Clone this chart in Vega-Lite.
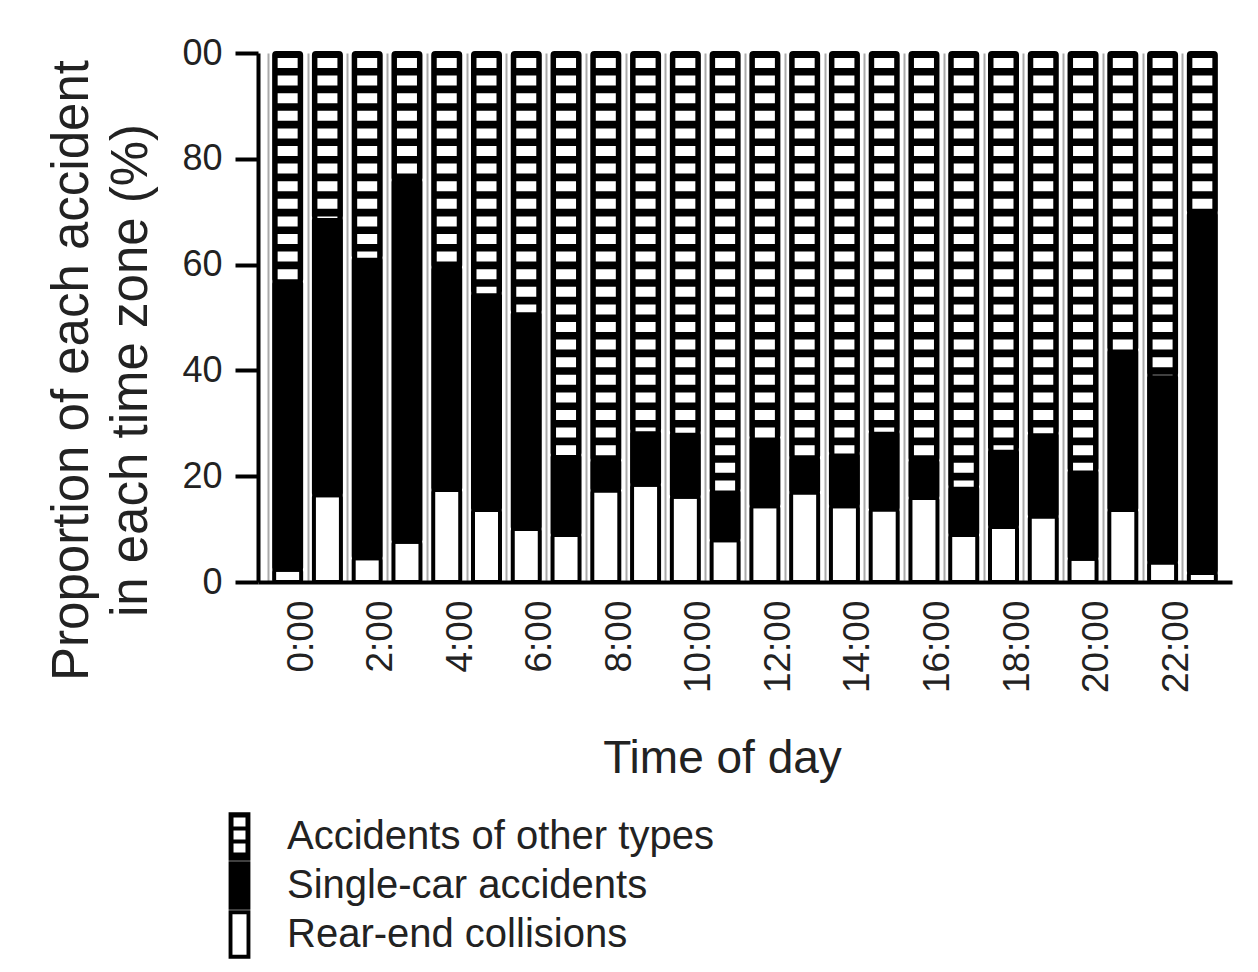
{
  "$schema": "https://vega.github.io/schema/vega-lite/v6.json",
  "width": 974,
  "height": 529,
  "autosize": {"type": "none"},
  "padding": {"left": 258, "top": 53, "right": 26, "bottom": 390},
  "background": "white",
  "config": {"view": {"stroke": null}, "font": "Liberation Sans"},
  "data": {"values": [
    {"h":"0:00","t":"Rear-end collisions","k":1,"v":2.3},{"h":"0:00","t":"Single-car accidents","k":2,"v":54.5},{"h":"0:00","t":"Accidents of other types","k":3,"v":43.2},
    {"h":"1:00","t":"Rear-end collisions","k":1,"v":16.4},{"h":"1:00","t":"Single-car accidents","k":2,"v":52.4},{"h":"1:00","t":"Accidents of other types","k":3,"v":31.2},
    {"h":"2:00","t":"Rear-end collisions","k":1,"v":4.5},{"h":"2:00","t":"Single-car accidents","k":2,"v":56.8},{"h":"2:00","t":"Accidents of other types","k":3,"v":38.7},
    {"h":"3:00","t":"Rear-end collisions","k":1,"v":7.6},{"h":"3:00","t":"Single-car accidents","k":2,"v":68.4},{"h":"3:00","t":"Accidents of other types","k":3,"v":24},
    {"h":"4:00","t":"Rear-end collisions","k":1,"v":17.4},{"h":"4:00","t":"Single-car accidents","k":2,"v":42.1},{"h":"4:00","t":"Accidents of other types","k":3,"v":40.5},
    {"h":"5:00","t":"Rear-end collisions","k":1,"v":13.6},{"h":"5:00","t":"Single-car accidents","k":2,"v":41},{"h":"5:00","t":"Accidents of other types","k":3,"v":45.4},
    {"h":"6:00","t":"Rear-end collisions","k":1,"v":10},{"h":"6:00","t":"Single-car accidents","k":2,"v":41},{"h":"6:00","t":"Accidents of other types","k":3,"v":49},
    {"h":"7:00","t":"Rear-end collisions","k":1,"v":8.9},{"h":"7:00","t":"Single-car accidents","k":2,"v":15.1},{"h":"7:00","t":"Accidents of other types","k":3,"v":76},
    {"h":"8:00","t":"Rear-end collisions","k":1,"v":17.3},{"h":"8:00","t":"Single-car accidents","k":2,"v":5.7},{"h":"8:00","t":"Accidents of other types","k":3,"v":77},
    {"h":"9:00","t":"Rear-end collisions","k":1,"v":18.4},{"h":"9:00","t":"Single-car accidents","k":2,"v":10.1},{"h":"9:00","t":"Accidents of other types","k":3,"v":71.5},
    {"h":"10:00","t":"Rear-end collisions","k":1,"v":16.1},{"h":"10:00","t":"Single-car accidents","k":2,"v":12.1},{"h":"10:00","t":"Accidents of other types","k":3,"v":71.8},
    {"h":"11:00","t":"Rear-end collisions","k":1,"v":7.9},{"h":"11:00","t":"Single-car accidents","k":2,"v":9.4},{"h":"11:00","t":"Accidents of other types","k":3,"v":82.7},
    {"h":"12:00","t":"Rear-end collisions","k":1,"v":14.3},{"h":"12:00","t":"Single-car accidents","k":2,"v":13},{"h":"12:00","t":"Accidents of other types","k":3,"v":72.7},
    {"h":"13:00","t":"Rear-end collisions","k":1,"v":16.9},{"h":"13:00","t":"Single-car accidents","k":2,"v":6.6},{"h":"13:00","t":"Accidents of other types","k":3,"v":76.5},
    {"h":"14:00","t":"Rear-end collisions","k":1,"v":14.3},{"h":"14:00","t":"Single-car accidents","k":2,"v":10},{"h":"14:00","t":"Accidents of other types","k":3,"v":75.7},
    {"h":"15:00","t":"Rear-end collisions","k":1,"v":13.7},{"h":"15:00","t":"Single-car accidents","k":2,"v":14.7},{"h":"15:00","t":"Accidents of other types","k":3,"v":71.6},
    {"h":"16:00","t":"Rear-end collisions","k":1,"v":15.9},{"h":"16:00","t":"Single-car accidents","k":2,"v":7.1},{"h":"16:00","t":"Accidents of other types","k":3,"v":77},
    {"h":"17:00","t":"Rear-end collisions","k":1,"v":8.9},{"h":"17:00","t":"Single-car accidents","k":2,"v":9.1},{"h":"17:00","t":"Accidents of other types","k":3,"v":82},
    {"h":"18:00","t":"Rear-end collisions","k":1,"v":10.4},{"h":"18:00","t":"Single-car accidents","k":2,"v":14.6},{"h":"18:00","t":"Accidents of other types","k":3,"v":75},
    {"h":"19:00","t":"Rear-end collisions","k":1,"v":12.4},{"h":"19:00","t":"Single-car accidents","k":2,"v":15.7},{"h":"19:00","t":"Accidents of other types","k":3,"v":71.9},
    {"h":"20:00","t":"Rear-end collisions","k":1,"v":4.4},{"h":"20:00","t":"Single-car accidents","k":2,"v":16.7},{"h":"20:00","t":"Accidents of other types","k":3,"v":78.9},
    {"h":"21:00","t":"Rear-end collisions","k":1,"v":13.6},{"h":"21:00","t":"Single-car accidents","k":2,"v":30.3},{"h":"21:00","t":"Accidents of other types","k":3,"v":56.1},
    {"h":"22:00","t":"Rear-end collisions","k":1,"v":3.7},{"h":"22:00","t":"Single-car accidents","k":2,"v":35.4},{"h":"22:00","t":"Accidents of other types","k":3,"v":60.9},
    {"h":"23:00","t":"Rear-end collisions","k":1,"v":1.7},{"h":"23:00","t":"Single-car accidents","k":2,"v":68.1},{"h":"23:00","t":"Accidents of other types","k":3,"v":30.2}
  ]},
  "transform": [
    {"stack": "v", "groupby": ["h"], "sort": [{"field": "k", "order": "ascending"}], "as": ["v0", "v1"]}
  ],
  "encoding": {
    "x": {
      "field": "h", "type": "nominal",
      "sort": ["0:00","1:00","2:00","3:00","4:00","5:00","6:00","7:00","8:00","9:00","10:00","11:00","12:00","13:00","14:00","15:00","16:00","17:00","18:00","19:00","20:00","21:00","22:00","23:00"],
      "scale": {"paddingInner": 0.321, "paddingOuter": 0.406},
      "axis": {
        "labelExpr": "parseInt(datum.value) % 2 == 0 ? datum.label : ''",
        "labelAngle": -90,
        "labelFontSize": 37,
        "labelColor": "#222",
        "labelPadding": 18,
        "ticks": false,
        "domainWidth": 4,
        "domainColor": "black",
        "grid": true,
        "gridColor": "#aaaaaa",
        "gridWidth": 2,
        "bandPosition": 0,
        "tickOffset": -6.4,
        "labelOffset": 19.9,
        "title": "Time of day",
        "titleFontSize": 46,
        "titleFontWeight": "normal",
        "titleColor": "#222",
        "titleX": 464,
        "titleY": 190,
        "titleBaseline": "alphabetic",
        "titleAlign": "center"
      }
    }
  },
  "layer": [
    {
      "mark": {"type": "bar", "stroke": "black", "strokeWidth": 4, "cornerRadius": 2},
      "encoding": {
        "y": {
          "field": "v0", "type": "quantitative",
          "scale": {"domain": [0, 100], "nice": false},
          "axis": {
            "values": [0, 20, 40, 60, 80, 100],
            "labelExpr": "datum.value == 100 ? '00' : datum.label",
            "tickSize": 23,
            "tickWidth": 4,
            "tickColor": "black",
            "domainWidth": 4,
            "domainColor": "black",
            "labelFontSize": 36,
            "labelColor": "#222",
            "labelPadding": 13,
            "grid": false,
            "title": ["Proportion of each accident", "in each time zone (%)"],
            "titleFontSize": 51,
            "titleFontWeight": "normal",
            "titleColor": "#222",
            "titleAngle": -90,
            "titleX": -171,
            "titleY": 317,
            "titleAlign": "center",
            "titleBaseline": "alphabetic",
            "titleLineHeight": 59
          }
        },
        "y2": {"field": "v1"},
        "fill": {
          "field": "t", "type": "nominal",
          "condition": {"test": "datum.k == 1", "value": "white"},
          "scale": {"domain": ["Accidents of other types", "Single-car accidents", "Rear-end collisions"], "range": ["black", "black", "black"]},
          "legend": {
            "orient": "none",
            "legendX": -43,
            "legendY": 759,
            "direction": "vertical",
            "title": null,
            "padding": 0,
            "rowPadding": 0,
            "symbolSize": 2352,
            "symbolType": "M-0.45,-1H0.45V1H-0.45Z",
            "symbolStrokeWidth": 0,
            "labelFontSize": 40,
            "labelColor": "#222",
            "labelOffset": 23,
            "labelLimit": 0,
            "encoding": {
              "symbols": {
                "opacity": {"value": 1},
                "shape": {
                  "condition": [
                    {"test": "datum.value === 'Accidents of other types'", "value": "M-0.45,-1H0.45V1H-0.45Z M-0.247,-0.784V-0.412H0.247V-0.784Z M-0.247,-0.247V0.124H0.247V-0.247Z M-0.247,0.289V0.66H0.247V0.289Z"},
                    {"test": "datum.value === 'Rear-end collisions'", "value": "M-0.45,-1H0.45V1H-0.45Z M-0.29,-0.835V0.835H0.29V-0.835Z"}
                  ],
                  "value": "M-0.45,-1H0.45V1H-0.45Z"
                }
              }
            }
          }
        }
      }
    },
    {
      "transform": [{"filter": "datum.k == 3"}],
      "mark": {"type": "rule", "color": "white", "strokeWidth": 20, "strokeDash": [10, 7.6], "strokeDashOffset": 12.6, "strokeCap": "butt"},
      "encoding": {
        "y": {"field": "v1", "type": "quantitative"},
        "y2": {"field": "v0"}
      }
    }
  ]
}
